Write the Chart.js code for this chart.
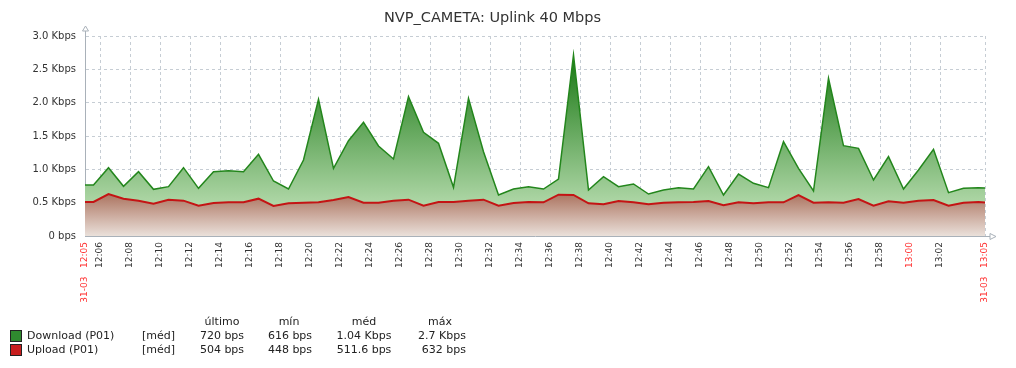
<!DOCTYPE html>
<html lang="pt">

<head>
    <meta charset="UTF-8">
    <title>NVP_CAMETA: Uplink 40 Mbps</title>
    <script src="https://cdn.jsdelivr.net/npm/chart.js"></script>
    <style>
        body {
            margin: 0;
            background: #fff;
            font-family: 'DejaVu Sans', sans-serif;
        }

        .wrap {
            position: relative;
            width: 1016px;
            height: 368px;
        }

        canvas {
            position: absolute;
            left: 0;
            top: 0;
        }

        .legend span {
            position: absolute;
            white-space: nowrap;
            font-size: 11px;
            line-height: 14px;
            color: #222;
        }

        .legend .sw {
            width: 10px;
            height: 10px;
            border: 1px solid #222;
        }

        .legend .c {
            transform: translateX(-50%);
        }

        .legend .r {
            transform: translateX(-100%);
        }
    </style>
</head>

<body>
    <div class="wrap">
        <canvas id="graph" width="1016" height="368"></canvas>
        <div class="legend" id="legend"></div>
    </div>

    <script>
        // sample times (first/last are the graph edges)
        const sampleTimes = [
            '12:05:00', '12:05:34', '12:06:34', '12:07:34', '12:08:34', '12:09:34', '12:10:34', '12:11:34',
            '12:12:34', '12:13:34', '12:14:34', '12:15:34', '12:16:34', '12:17:34', '12:18:34', '12:19:34',
            '12:20:34', '12:21:34', '12:22:34', '12:23:34', '12:24:34', '12:25:34', '12:26:34', '12:27:34',
            '12:28:34', '12:29:34', '12:30:34', '12:31:34', '12:32:34', '12:33:34', '12:34:34', '12:35:34',
            '12:36:34', '12:37:34', '12:38:34', '12:39:34', '12:40:34', '12:41:34', '12:42:34', '12:43:34',
            '12:44:34', '12:45:34', '12:46:34', '12:47:34', '12:48:34', '12:49:34', '12:50:34', '12:51:34',
            '12:52:34', '12:53:34', '12:54:34', '12:55:34', '12:56:34', '12:57:34', '12:58:34', '12:59:34',
            '13:00:34', '13:01:34', '13:02:34', '13:03:34', '13:04:34', '13:05:00'
        ];

        // Kbps
        const download = [
            0.765, 0.765, 1.025, 0.745, 0.965, 0.70, 0.74, 1.025, 0.715, 0.965, 0.98, 0.965, 1.225, 0.825,
            0.705, 1.14, 2.05, 1.015, 1.43, 1.705, 1.35, 1.155, 2.09, 1.555, 1.39, 0.73, 2.065, 1.265,
            0.615, 0.705, 0.74, 0.705, 0.855, 2.715, 0.69, 0.89, 0.74, 0.78, 0.63, 0.69, 0.725, 0.705,
            1.04, 0.615, 0.93, 0.79, 0.725, 1.415, 1.015, 0.675, 2.365, 1.355, 1.315, 0.84, 1.19, 0.705,
            0.99, 1.30, 0.65, 0.715, 0.725, 0.72
        ];
        const upload = [
            0.51, 0.51, 0.63, 0.56, 0.53, 0.485, 0.545, 0.53, 0.455, 0.495, 0.505, 0.505, 0.56, 0.45,
            0.49, 0.50, 0.505, 0.54, 0.585, 0.50, 0.50, 0.53, 0.545, 0.455, 0.51, 0.51, 0.53, 0.545,
            0.455, 0.495, 0.51, 0.505, 0.62, 0.615, 0.49, 0.475, 0.525, 0.505, 0.475, 0.50, 0.505, 0.51,
            0.525, 0.46, 0.505, 0.49, 0.505, 0.505, 0.615, 0.50, 0.505, 0.50, 0.555, 0.455, 0.52, 0.50,
            0.53, 0.54, 0.455, 0.50, 0.51, 0.504
        ];

        const xTickLabels = [
            '31-03   12:05', '12:06', '12:08', '12:10', '12:12', '12:14', '12:16', '12:18', '12:20', '12:22',
            '12:24', '12:26', '12:28', '12:30', '12:32', '12:34', '12:36', '12:38', '12:40', '12:42',
            '12:44', '12:46', '12:48', '12:50', '12:52', '12:54', '12:56', '12:58', '13:00', '13:02',
            '31-03   13:05'
        ];
        const redLabels = ['31-03   12:05', '13:00', '31-03   13:05'];

        const seriesNames = ['Download (P01)', 'Upload (P01)'];
        const seriesColors = ['#2f8a2f', '#c81e1e'];
        const statHeaders = ['último', 'mín', 'méd', 'máx'];
        const downloadStats = ['720 bps', '616 bps', '1.04 Kbps', '2.7 Kbps'];
        const uploadStats = ['504 bps', '448 bps', '511.6 bps', '632 bps'];

        // minutes since 12:05
        function toMin(t) {
            const p = t.split(':').map(Number);
            return (p[0] - 12) * 60 + p[1] - 5 + p[2] / 60;
        }
        function tickMin(label) {
            return toMin(label.slice(-5) + ':00');
        }

        const xs = sampleTimes.map(toMin);
        const font = 'DejaVu Sans';

        function greenFill(context) {
            const chart = context.chart;
            if (!chart.chartArea) return null;
            const y = chart.scales.y;
            const g = chart.ctx.createLinearGradient(0, y.getPixelForValue(2.75), 0, y.getPixelForValue(0));
            g.addColorStop(0, 'rgb(22,118,16)');
            g.addColorStop(0.8, 'rgb(170,212,162)');
            g.addColorStop(1, 'rgb(212,235,206)');
            return g;
        }

        function redFill(context) {
            const chart = context.chart;
            if (!chart.chartArea) return null;
            const y = chart.scales.y;
            const g = chart.ctx.createLinearGradient(0, y.getPixelForValue(0.63), 0, y.getPixelForValue(0));
            g.addColorStop(0, 'rgb(172,116,96)');
            g.addColorStop(1, 'rgb(234,224,218)');
            return g;
        }

        // open arrows at the axis ends
        const axisArrows = {
            id: 'axisArrows',
            afterDraw(chart) {
                const { ctx, chartArea: a } = chart;
                const x0 = Math.round(a.left) + 0.5;
                const y0 = Math.round(a.bottom) + 0.5;
                ctx.save();
                ctx.strokeStyle = '#a9b1b9';
                ctx.fillStyle = '#fff';
                ctx.lineWidth = 1;
                ctx.beginPath();
                ctx.moveTo(x0, a.top);
                ctx.lineTo(x0, a.top - 5);
                ctx.moveTo(a.right, y0);
                ctx.lineTo(a.right + 5, y0);
                ctx.stroke();
                ctx.beginPath();
                ctx.moveTo(x0, a.top - 10);
                ctx.lineTo(x0 - 3, a.top - 5);
                ctx.lineTo(x0 + 3, a.top - 5);
                ctx.closePath();
                ctx.fill();
                ctx.stroke();
                ctx.beginPath();
                ctx.moveTo(a.right + 11, y0);
                ctx.lineTo(a.right + 5, y0 - 3);
                ctx.lineTo(a.right + 5, y0 + 3);
                ctx.closePath();
                ctx.fill();
                ctx.stroke();
                ctx.restore();
            }
        };

        new Chart(document.getElementById('graph'), {
            type: 'line',
            data: {
                datasets: [{
                    label: seriesNames[1],
                    data: xs.map((x, i) => ({ x: x, y: upload[i] })),
                    borderColor: '#c41414',
                    borderWidth: 2,
                    backgroundColor: redFill,
                    fill: 'origin',
                    pointRadius: 0,
                    tension: 0
                }, {
                    label: seriesNames[0],
                    data: xs.map((x, i) => ({ x: x, y: download[i] })),
                    borderColor: '#23861c',
                    borderWidth: 1.5,
                    backgroundColor: greenFill,
                    fill: 'origin',
                    pointRadius: 0,
                    tension: 0
                }]
            },
            options: {
                responsive: false,
                animation: false,
                layout: { padding: { left: 0, right: 31, top: 0, bottom: 0 } },
                plugins: {
                    legend: { display: false },
                    tooltip: { enabled: false },
                    title: {
                        display: true,
                        text: 'NVP_CAMETA: Uplink 40 Mbps',
                        color: '#333',
                        font: { family: font, size: 14.5, weight: 'normal' },
                        padding: { top: 10, bottom: 8.6 }
                    }
                },
                scales: {
                    x: {
                        type: 'linear',
                        min: 0,
                        max: 60,
                        afterBuildTicks: s => { s.ticks = xTickLabels.map(l => ({ value: tickMin(l) })); },
                        afterFit: s => { s.height = 132; },
                        ticks: {
                            autoSkip: false,
                            minRotation: 90,
                            maxRotation: 90,
                            padding: 6,
                            font: { family: font, size: 9 },
                            color: c => redLabels.includes(xTickLabels[c.index]) ? '#ff3030' : '#333',
                            callback: (v, i) => xTickLabels[i]
                        },
                        grid: { color: '#c6cdd4', drawTicks: false },
                        border: { color: '#a9b1b9', dash: [3, 3] }
                    },
                    y: {
                        min: 0,
                        max: 3,
                        afterFit: s => { s.width = 85; },
                        ticks: {
                            stepSize: 0.5,
                            padding: 9,
                            color: '#333',
                            font: { family: font, size: 10 },
                            callback: v => v === 0 ? '0 bps' : v.toFixed(1) + ' Kbps'
                        },
                        grid: { color: '#c6cdd4', drawTicks: false },
                        border: { color: '#a9b1b9', dash: [3, 3] }
                    }
                }
            },
            plugins: [axisArrows]
        });

        // legend table below the graph
        const legend = document.getElementById('legend');
        function addText(text, left, top, cls) {
            const s = document.createElement('span');
            s.textContent = text;
            s.style.left = left + 'px';
            s.style.top = top + 'px';
            if (cls) s.className = cls;
            legend.appendChild(s);
        }
        const colPos = [[222, 'c'], [290, 'c'], [364, 'c'], [466, 'r']];
        const headerPos = [222, 289, 364, 440];
        statHeaders.forEach((h, i) => addText(h, headerPos[i], 315, 'c'));
        [downloadStats, uploadStats].forEach((stats, r) => {
            const top = 329 + r * 14;
            const sw = document.createElement('span');
            sw.className = 'sw';
            sw.style.left = '10px';
            sw.style.top = (top + 1) + 'px';
            sw.style.background = seriesColors[r];
            legend.appendChild(sw);
            addText(seriesNames[r], 27, top);
            addText('[méd]', 142, top);
            stats.forEach((v, i) => addText(v, colPos[i][0], top, colPos[i][1]));
        });
    </script>
</body>

</html>
